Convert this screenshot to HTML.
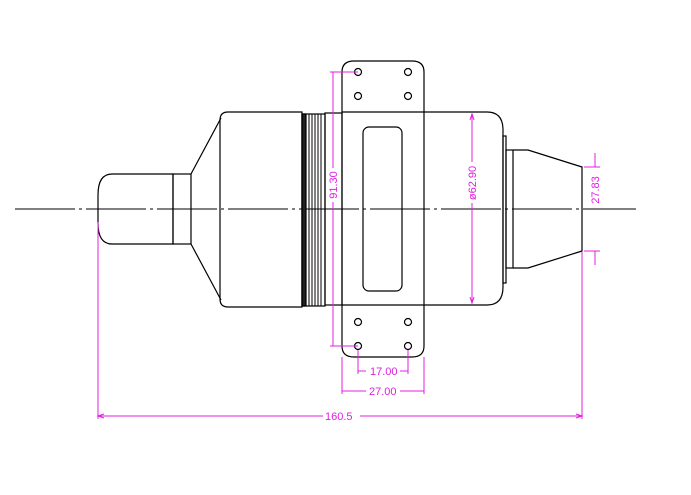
<!DOCTYPE html>
<html><head><meta charset="utf-8"><style>
html,body{margin:0;padding:0;background:#fff;width:691px;height:495px;overflow:hidden}
svg{display:block}
text{font-family:"Liberation Sans",sans-serif;font-size:11px;fill:#e020e0}
</style></head><body>
<svg width="691" height="495" viewBox="0 0 691 495" xmlns="http://www.w3.org/2000/svg">
<g fill="none" stroke="#000" stroke-width="1.2">
<!-- centerline -->
<line x1="15" y1="209" x2="636" y2="209" stroke-dasharray="60,4,3,4" stroke-width="1"/>
<!-- nozzle -->
<path d="M173,174 H112 Q98,174 98,195 V223 Q98,244 112,244 H173 Z"/>
<rect x="173" y="174" width="18" height="70"/>
<!-- cone -->
<path d="M191,174 L221,118 M191,244 L221,300"/>
<!-- body -->
<path d="M302,112 H228 Q220,112 220,120 V299 Q220,307 228,307 H302 Z"/>
<!-- threads -->
<rect x="302" y="114" width="4" height="192" fill="#222"/>
<rect x="302" y="114" width="23" height="192"/>
<path d="M309,114V306 M312,114V306 M315,114V306 M318,114V306 M321,114V306" stroke-width="1"/>
<rect x="325" y="113" width="17" height="192"/>
<!-- flange -->
<path d="M342,72 Q342,61 354,61 H412 Q424,61 424,72 V346 Q424,357 412,357 H354 Q342,357 342,346 Z"/>
<line x1="342" y1="112" x2="424" y2="112"/>
<line x1="342" y1="305" x2="424" y2="305"/>
<rect x="363" y="127" width="39" height="164" rx="6"/>
<circle cx="358" cy="72" r="3.5"/><circle cx="408" cy="72" r="3.5"/>
<circle cx="358" cy="96" r="3.5"/><circle cx="408" cy="96" r="3.5"/>
<circle cx="358" cy="322" r="3.5"/><circle cx="408" cy="322" r="3.5"/>
<circle cx="358" cy="346" r="3.5"/><circle cx="408" cy="346" r="3.5"/>
<!-- right body -->
<path d="M424,112 H487 Q503,112 503,130 V287 Q503,305 487,305 H424"/>
<rect x="503" y="136" width="3" height="147"/>
<rect x="506" y="150" width="7" height="118"/>
<path d="M513,150 H528 L582,167 V251 L528,268 H513"/>
</g>
<g stroke="#e020e0" stroke-width="1" fill="none">
<!-- 91.30 -->
<line x1="333" y1="72" x2="333" y2="168"/><line x1="333" y1="202" x2="333" y2="346"/>
<line x1="330" y1="72" x2="358" y2="72"/><line x1="330" y1="346" x2="358" y2="346"/>
<!-- 62.90 -->
<line x1="472" y1="114" x2="472" y2="162"/><line x1="472" y1="203" x2="472" y2="303"/>
<path d="M470,120 L472,114 L474,120 M470,297 L472,303 L474,297"/>
<!-- 27.83 -->
<line x1="595" y1="153" x2="595" y2="167"/><line x1="595" y1="251" x2="595" y2="265"/>
<line x1="584" y1="167" x2="600" y2="167"/><line x1="584" y1="251" x2="600" y2="251"/>
<!-- 17.00 -->
<line x1="358" y1="350" x2="358" y2="374"/><line x1="408" y1="350" x2="408" y2="374"/>
<line x1="358" y1="371" x2="366" y2="371"/><line x1="400" y1="371" x2="408" y2="371"/>
<!-- 27.00 -->
<line x1="342" y1="357" x2="342" y2="394"/><line x1="424" y1="357" x2="424" y2="394"/>
<line x1="342" y1="391" x2="366" y2="391"/><line x1="400" y1="391" x2="424" y2="391"/>
<!-- 160.5 -->
<line x1="98" y1="222" x2="98" y2="419"/><line x1="582" y1="252" x2="582" y2="419"/>
<line x1="98" y1="416" x2="323" y2="416"/><line x1="360" y1="416" x2="582" y2="416"/>
<path d="M104,414 L98,416 L104,418 M576,414 L582,416 L576,418"/>
</g>
<text x="370" y="375">17.00</text>
<text x="369" y="395">27.00</text>
<text x="325" y="420">160.5</text>
<text transform="translate(337,185) rotate(-90)" text-anchor="middle">91.30</text>
<text transform="translate(476,183) rotate(-90)" text-anchor="middle">ø62.90</text>
<text transform="translate(599,190) rotate(-90)" text-anchor="middle">27.83</text>
</svg>
</body></html>
